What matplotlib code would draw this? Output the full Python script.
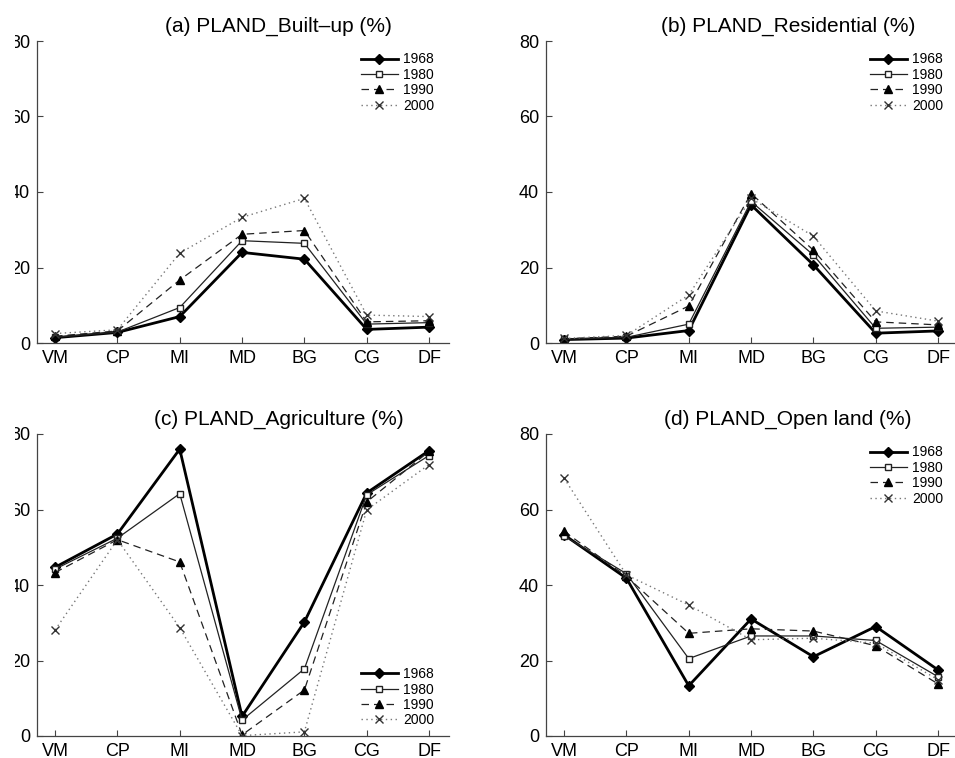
import matplotlib
matplotlib.use('Agg')
import matplotlib.pyplot as plt
from matplotlib.patches import Rectangle

plt.rcParams['font.family'] = ['Liberation Sans', 'DejaVu Sans']

zones = ["VM", "CP", "MI", "MD", "BG", "CG", "DF"]
years = ["1968", "1980", "1990", "2000"]

builtup = {
    "1968": [1.4, 2.8, 7.0, 24.0, 22.2, 3.6, 4.2],
    "1980": [1.5, 2.9, 9.4, 27.1, 26.4, 5.0, 5.4],
    "1990": [1.8, 3.2, 16.7, 28.8, 29.8, 5.6, 5.9],
    "2000": [2.5, 3.5, 23.8, 33.3, 38.3, 7.4, 7.0],
}
residential = {
    "1968": [0.9, 1.3, 3.3, 36.6, 20.7, 2.6, 3.2],
    "1980": [1.0, 1.5, 5.0, 37.5, 23.3, 3.9, 4.2],
    "1990": [1.1, 1.8, 9.8, 39.6, 24.6, 5.6, 4.8],
    "2000": [1.2, 2.0, 12.7, 38.3, 28.3, 8.5, 5.8],
}
agriculture = {
    "1968": [44.7, 53.5, 76.0, 5.2, 30.2, 64.4, 75.6],
    "1980": [44.2, 52.4, 64.2, 4.2, 17.8, 63.9, 74.3],
    "1990": [43.3, 52.0, 46.1, 0.3, 12.2, 62.0, 75.4],
    "2000": [28.1, 52.0, 28.7, 0.1, 1.1, 59.9, 71.9],
}
openland = {
    "1968": [53.3, 41.8, 13.3, 31.0, 21.0, 29.0, 17.5],
    "1980": [53.0, 43.0, 20.5, 26.5, 26.5, 25.3, 15.7],
    "1990": [54.2, 42.3, 27.2, 28.4, 27.8, 23.9, 13.8],
    "2000": [68.3, 42.7, 34.7, 25.5, 25.9, 24.6, 14.9],
}

panels = [
    ("(a) PLAND_Built\u2013up (%)", builtup),
    ("(b) PLAND_Residential (%)", residential),
    ("(c) PLAND_Agriculture (%)", agriculture),
    ("(d) PLAND_Open land (%)", openland),
]

styles = {
    "1968": dict(color="black", lw=2.0, ls="-", marker="D", ms=5.5, mfc="black", mec="black"),
    "1980": dict(color="#222222", lw=0.9, ls="-", marker="s", ms=5, mfc="white", mec="#222222"),
    "1990": dict(color="#222222", lw=0.9, ls=(0, (6, 4)), marker="^", ms=6, mfc="black", mec="black"),
    "2000": dict(color="#777777", lw=1.0, ls=(0, (1, 2.5)), marker="x", ms=5.5, mew=1.0, mec="#333333"),
}

W, H = 955, 758
fig = plt.figure(figsize=(W / 100, H / 100), dpi=100)

# axes boxes in pixels: left, top
boxes = [(37, 41), (546, 41), (37, 434), (546, 434)]
aw, ah = 412, 302

x = list(range(1, len(zones) + 1))
for (title, data), (lx, ty) in zip(panels, boxes):
    ax = fig.add_axes([lx / W, (H - ty - ah) / H, aw / W, ah / H])
    for y in years:
        ax.plot(x, data[y], label=y, **styles[y])
    ax.set_xlim(0.71, 7.32)
    ax.set_ylim(0, 80)
    ax.set_yticks([0, 20, 40, 60, 80])
    ax.set_xticks(x)
    ax.set_xticklabels(zones)
    ax.tick_params(direction="in", length=4, width=0.8, labelsize=13, color="#444444")
    ax.tick_params(axis="x", pad=5)
    ax.tick_params(axis="y", pad=5)
    for side in ["top", "right"]:
        ax.spines[side].set_visible(False)
    for side in ["left", "bottom"]:
        ax.spines[side].set_linewidth(0.9)
        ax.spines[side].set_color("#444444")
    ax.text(0.587, 1.018, title, transform=ax.transAxes, ha="center", va="bottom", fontsize=15)
    anchor = (0.964, 0.228) if title.startswith("(c)") else (0.964, 0.962)
    ax.legend(loc="upper right", bbox_to_anchor=anchor, frameon=False, fontsize=10,
              handlelength=2.7, handletextpad=0.35, labelspacing=0.1, borderaxespad=0,
              borderpad=0)

# the source image is cut at the left edge
fig.patches.append(Rectangle((0, 0), 15 / W, 1, transform=fig.transFigure,
                             facecolor="white", edgecolor="none", zorder=10))

fig.savefig("out.png", dpi=100)
